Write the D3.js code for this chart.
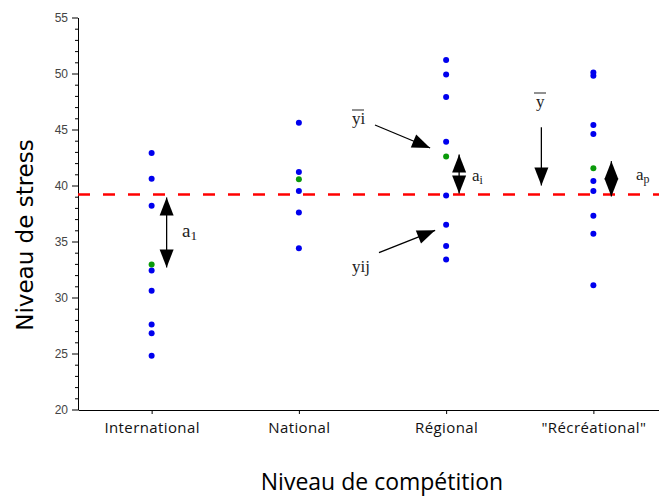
<!DOCTYPE html>
<html>
<head>
<meta charset="utf-8">
<script src="https://cdn.jsdelivr.net/npm/d3@7"></script>
<style>
  body { margin: 0; background: #fff; }
  svg { display: block; }
</style>
</head>
<body>
<svg id="chart" width="659" height="500"></svg>
<script>
const width = 659;
const height = 500;

// data
const categories = ["International", "National", "Régional", "\"Récréational\""];
const international = [42.9, 40.6, 38.2, 32.4, 30.6, 27.6, 26.8, 24.8];
const national = [45.6, 41.2, 39.5, 37.6, 34.4];
const regional = [51.2, 49.9, 47.9, 43.9, 39.1, 36.5, 34.6, 33.4];
const recreational = [50.1, 49.8, 45.4, 44.6, 40.4, 39.5, 37.3, 35.7, 31.1];
const groupMeans = [32.95, 40.55, 42.6, 41.55];
const grandMean = 39.2;
const yTicks = [20, 25, 30, 35, 40, 45, 50, 55];

const groups = [international, national, regional, recreational];
const serif = "'Liberation Serif', 'DejaVu Serif', serif";
const comic = "'Comic Sans MS', 'Open Sans', sans-serif";

const svg = d3.select('#chart');

const x = d3.scalePoint().domain(categories).range([78, 667]).padding(0.5);
const y = d3.scaleLinear().domain([20, 55]).range([409.5, 17.5]);

// minor ticks every 1
svg.append('g')
    .attr('transform', 'translate(78,0)')
    .call(d3.axisLeft(y).tickValues(d3.range(20, 56).filter(v => v % 5 != 0)).tickSize(3).tickFormat(''))
    .call(g => g.select('.domain').remove());

svg.append('g')
    .attr('transform', 'translate(78,0)')
    .call(d3.axisLeft(y).tickValues(yTicks).tickSize(6).tickSizeOuter(0))
    .call(g => g.selectAll('text')
        .attr('font-family', "'Liberation Sans', Arial, sans-serif")
        .attr('font-size', 12).attr('fill', '#444').attr('dx', -1));

svg.append('g')
    .attr('transform', 'translate(0,410)')
    .call(d3.axisBottom(x).tickSize(4).tickSizeOuter(0))
    .call(g => g.selectAll('text')
        .attr('font-family', comic).attr('font-size', 15)
        .attr('letter-spacing', 0.4)
        .attr('dy', '1.05em').attr('fill', '#111'));

// grand mean dashed line
svg.append('line')
    .attr('x1', 78).attr('x2', width)
    .attr('y1', y(grandMean)).attr('y2', y(grandMean))
    .attr('stroke', '#f00')
    .attr('stroke-width', 2.5)
    .attr('stroke-dasharray', '12,13');

// points
groups.forEach((vals, i) => {
    svg.append('g').selectAll('circle')
        .data(vals)
        .enter().append('circle')
        .attr('cx', x(categories[i]))
        .attr('cy', d => y(d))
        .attr('r', 3)
        .attr('fill', '#0000ee');
});
svg.append('g').selectAll('circle')
    .data(groupMeans)
    .enter().append('circle')
    .attr('cx', (d, i) => x(categories[i]))
    .attr('cy', d => y(d))
    .attr('r', 3)
    .attr('fill', '#0a9a0a');

// arrows
const head = (x1, y1, x2, y2, len, w) => {
    const a = Math.atan2(y2 - y1, x2 - x1);
    const bx = x2 - len * Math.cos(a), by = y2 - len * Math.sin(a);
    const px = -Math.sin(a) * w / 2, py = Math.cos(a) * w / 2;
    svg.append('path')
        .attr('d', `M${x2},${y2}L${bx + px},${by + py}L${bx - px},${by - py}Z`)
        .attr('fill', '#000');
};
const arrow = (x1, y1, x2, y2, both) => {
    svg.append('line')
        .attr('x1', x1).attr('y1', y1).attr('x2', x2).attr('y2', y2)
        .attr('stroke', '#000').attr('stroke-width', 1.3);
    head(x1, y1, x2, y2, 18, 14);
    if (both) head(x2, y2, x1, y1, 18, 14);
};

const sub = (tx, ty, main, s, size) => {
    const t = svg.append('text')
        .attr('x', tx).attr('y', ty)
        .attr('font-family', serif).attr('font-size', size).attr('fill', '#222');
    t.append('tspan').text(main);
    t.append('tspan').attr('font-size', size * 0.7).attr('dy', 3).text(s);
};

// a1
const xi = x(categories[0]);
arrow(xi + 15, y(grandMean) + 3, xi + 15, y(groupMeans[0]) + 3, true);
sub(182, 237, 'a', '1', 19);

// ai
const xr = x(categories[2]);
arrow(xr + 13, y(groupMeans[2]) - 2, xr + 13, y(grandMean) - 1, true);
sub(472, 181, 'a', 'i', 17);

// ap
const xc = x(categories[3]);
arrow(xc + 18, y(groupMeans[3]) - 7, xc + 18, y(grandMean) + 2, true);
sub(636, 180, 'a', 'p', 17);

// yi bar
svg.append('text').attr('x', 352).attr('y', 124)
    .attr('font-family', serif).attr('font-size', 17).attr('fill', '#222').text('yi');
svg.append('line').attr('x1', 352).attr('x2', 364).attr('y1', 110).attr('y2', 110)
    .attr('stroke', '#222').attr('stroke-width', 1);
arrow(375, y(45.4), xr - 16, y(43.35), false);

// yij
svg.append('text').attr('x', 352).attr('y', 272)
    .attr('font-family', serif).attr('font-size', 17).attr('fill', '#222').text('yij');
arrow(379, y(34.0), xr - 11, y(36.0), false);

// y bar
svg.append('text').attr('x', 536).attr('y', 107)
    .attr('font-family', serif).attr('font-size', 17).attr('fill', '#222').text('y');
svg.append('line').attr('x1', 534).attr('x2', 546).attr('y1', 93).attr('y2', 93)
    .attr('stroke', '#222').attr('stroke-width', 1);
arrow(xc - 52, y(45.2), xc - 52, y(40.0), false);

// axis titles
svg.append('text')
    .attr('transform', 'translate(33,235) rotate(-90)')
    .attr('text-anchor', 'middle')
    .attr('font-family', 'DejaVu Sans, Verdana, sans-serif')
    .attr('font-size', 23)
    .text('Niveau de stress');

svg.append('text')
    .attr('x', 382).attr('y', 490)
    .attr('text-anchor', 'middle')
    .attr('font-family', comic)
    .attr('font-size', 23)
    .text('Niveau de compétition');
</script>
</body>
</html>
